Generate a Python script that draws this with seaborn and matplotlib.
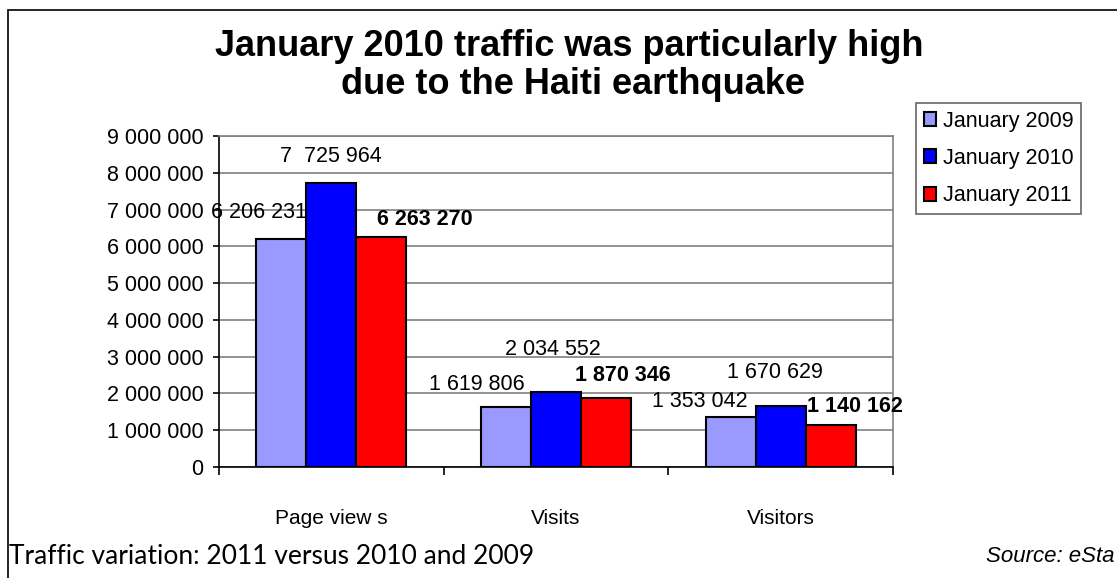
import matplotlib
matplotlib.use("Agg")
import matplotlib.pyplot as plt
from matplotlib.patches import Rectangle
import seaborn as sns
import pandas as pd

categories = ["Page view s", "Visits", "Visitors"]
years = ["January 2009", "January 2010", "January 2011"]
values_2009 = [6206231, 1619806, 1353042]
values_2010 = [7725964, 2034552, 1670629]
values_2011 = [6263270, 1870346, 1140162]
label_texts_2009 = ["6 206 231", "1 619 806", "1 353 042"]
label_texts_2010 = ["7  725 964", "2 034 552", "1 670 629"]
label_texts_2011 = ["6 263 270", "1 870 346", "1 140 162"]
ytick_values = [0, 1000000, 2000000, 3000000, 4000000, 5000000, 6000000, 7000000, 8000000, 9000000]
ytick_labels = ["0", "1 000 000", "2 000 000", "3 000 000", "4 000 000", "5 000 000",
                "6 000 000", "7 000 000", "8 000 000", "9 000 000"]

rows = []
for yr, vals in zip(years, [values_2009, values_2010, values_2011]):
    for c, v in zip(categories, vals):
        rows.append({"category": c, "year": yr, "value": v})
df = pd.DataFrame(rows)

sns.set_theme(style="white")
plt.rcParams["font.family"] = ["Liberation Sans", "DejaVu Sans"]
plt.rcParams["text.color"] = "black"
plt.rcParams["xtick.color"] = "black"
plt.rcParams["ytick.color"] = "black"

palette = {"January 2009": "#9999FF", "January 2010": "#0000FF", "January 2011": "#FF0000"}

fig = plt.figure(figsize=(11.17, 5.78), dpi=100)
ax = fig.add_axes([219 / 1117, 1 - 467 / 578, (893 - 219) / 1117, (467 - 136) / 578])

sns.barplot(data=df, x="category", y="value", hue="year", order=categories,
            hue_order=years, palette=palette, width=0.667, gap=0,
            edgecolor="black", linewidth=1.5, saturation=1, ax=ax, legend=True)

ax.set_ylim(0, 9000000)
ax.set_xlim(-0.5, 2.5)
ax.set_yticks(ytick_values)
ax.set_yticklabels(ytick_labels, fontsize=15.5)
ax.set_xticks([0, 1, 2])
ax.set_xticklabels(categories, fontsize=15)
ax.set_xlabel("")
ax.set_ylabel("")
ax.yaxis.grid(True, color="#808080", linewidth=1.2)
ax.set_axisbelow(True)
for s in ["top", "right"]:
    ax.spines[s].set_color("#808080")
    ax.spines[s].set_linewidth(1.2)
for s in ["left", "bottom"]:
    ax.spines[s].set_color("black")
    ax.spines[s].set_linewidth(1.2)
ax.tick_params(axis="y", which="major", length=4.3, width=1.2, color="black",
               direction="out", left=True, pad=7)
ax.tick_params(axis="x", which="major", length=0, pad=30)
# category boundary ticks
ax.set_xticks([-0.5, 0.5, 1.5, 2.5], minor=True)
ax.tick_params(axis="x", which="minor", length=6, width=1.2, color="black",
               direction="out", bottom=True)

# data labels (offsets in pixels relative to bar top-center)
label_offsets = {
    0: [(-22, 26), (-29, 23), (-31, 16)],
    1: [(0, 26), (-3, 43), (-6, 33)],
    2: [(44, 17), (17, 23), (24, 19)],
}
weights = ["normal", "normal", "bold"]
label_sets = [label_texts_2009, label_texts_2010, label_texts_2011]
for si, cont in enumerate(ax.containers):
    for bi, bar in enumerate(cont):
        dx, dy = label_offsets[si][bi]
        x = bar.get_x() + bar.get_width() / 2
        y = bar.get_height()
        ax.annotate(label_sets[si][bi], (x, y), xytext=(dx * 0.72, dy * 0.72),
                    textcoords="offset points", ha="center", va="center",
                    fontsize=15.5, fontweight=weights[si], color="black",
                    annotation_clip=False)

leg = ax.legend(loc="upper left", bbox_to_anchor=(916 / 1117, 1 - 103 / 578),
                bbox_transform=fig.transFigure, borderaxespad=0, fontsize=15.5,
                frameon=True, fancybox=False, edgecolor="#404040",
                handlelength=0.6, handleheight=0.6, handletextpad=0.3,
                labelspacing=0.76, borderpad=0.35)
leg.get_frame().set_linewidth(1.2)
for h in leg.legend_handles:
    h.set_edgecolor("black")
    h.set_linewidth(1.5)

fig.text(569 / 1117, 1 - 47 / 578, "January 2010 traffic was particularly high",
         ha="center", va="center", fontsize=26, fontweight="bold")
fig.text(573 / 1117, 1 - 85 / 578, "due to the Haiti earthquake",
         ha="center", va="center", fontsize=26, fontweight="bold")

fig.text(9 / 1117, 1 - 556 / 578, "Traffic variation: 2011 versus 2010 and 2009",
         ha="left", va="center", fontsize=19, family=["Lato", "DejaVu Sans"])
fig.text(1115 / 1117, 1 - 557 / 578, "Source: eSta",
         ha="right", va="center", fontsize=16, style="italic")

fig.patches.append(Rectangle((8 / 1117, -0.1), 1.2, 1 - 10 / 578 + 0.1,
                             transform=fig.transFigure, fill=False,
                             edgecolor="black", linewidth=1.2, figure=fig))

fig.savefig("out.png", dpi=100)
